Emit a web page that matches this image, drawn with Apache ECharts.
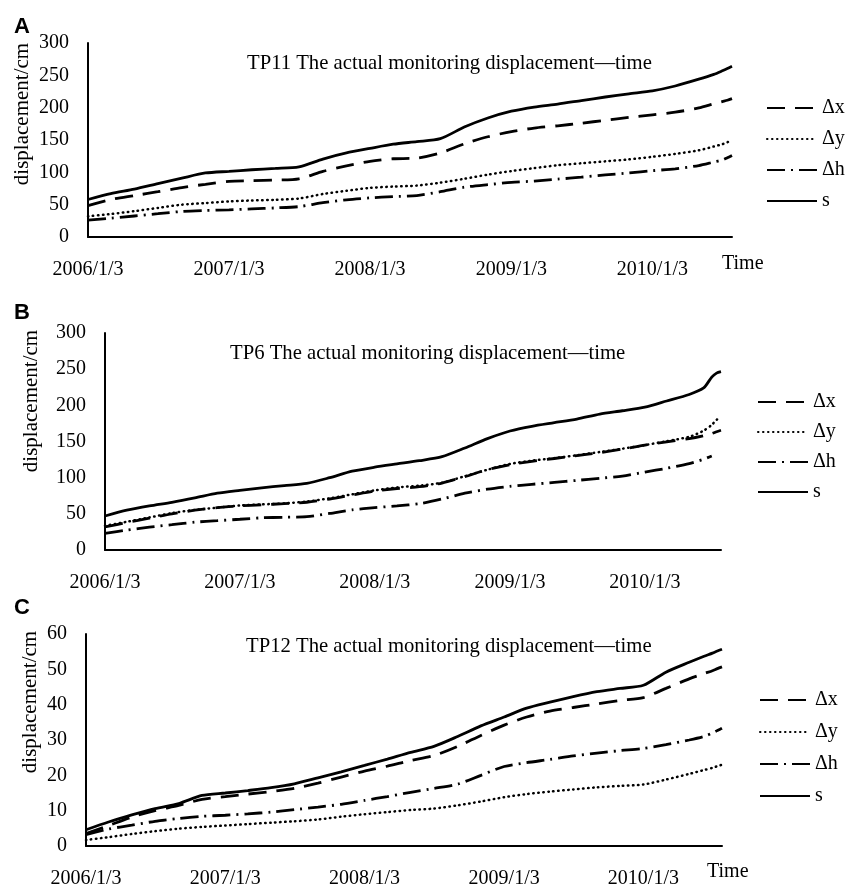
<!DOCTYPE html>
<html>
<head>
<meta charset="utf-8">
<script src="https://cdn.jsdelivr.net/npm/echarts@6.0.0/dist/echarts.min.js"></script>
<style>
  html, body { margin: 0; padding: 0; background: #fff; }
  #chart { width: 848px; height: 889px; }
</style>
</head>
<body>
<div id="chart"></div>
<script>
// sampling dates shared by the three monitoring points
var dates = ['2006/1/3', '2006/3/3', '2006/5/3', '2006/7/3', '2006/9/3', '2006/11/3',
  '2007/1/3', '2007/3/3', '2007/5/3', '2007/7/3', '2007/9/3', '2007/11/3',
  '2008/1/3', '2008/3/3', '2008/5/3', '2008/7/3', '2008/9/3', '2008/11/3',
  '2009/1/3', '2009/3/3', '2009/5/3', '2009/7/3', '2009/9/3', '2009/11/3',
  '2010/1/3', '2010/3/3', '2010/5/3', '2010/6/11', '2010/7/3', '2010/7/16', '2010/7/28'];
var xTickLabels = ['2006/1/3', '2007/1/3', '2008/1/3', '2009/1/3', '2010/1/3'];
var xStart = '2006/1/3';
var xEnd = '2010/7/28';
var seriesNames = ['Δx', 'Δy', 'Δh', 's'];

// TP11 (cm)
var tp11Dx = [48.5, 58, 64, 70, 76.5, 81.5, 86, 87, 88, 90, 101.5, 110, 117, 121, 122, 130, 144, 155, 163, 168.5, 172, 176, 180.5, 185, 189, 193, 199.5, 206, 209.5, 211.5, 214];
var tp11Dy = [32, 35.5, 40, 45, 50, 52.5, 55, 56.5, 57.5, 59.5, 66.5, 71.5, 76, 78, 79.5, 84, 90, 96.5, 102, 106.5, 111, 114, 117, 120, 124, 128.5, 134, 140, 143.5, 146.5, 150];
var tp11Dh = [26, 29, 32.5, 36, 39.5, 41, 42, 43.5, 45, 47, 53, 57.5, 60.5, 62.5, 64, 70, 77, 81, 84.5, 86.5, 89.5, 92.5, 96, 99, 102.5, 105.5, 110.5, 116, 119, 122.5, 126];
var tp11S = [58, 67, 74, 82.5, 91, 99, 101.5, 104, 106, 108.5, 120.5, 130, 137, 143.5, 147.5, 152, 170, 184, 194.5, 201, 205.5, 211, 216.5, 221.5, 226, 233.5, 244, 251.5, 257, 260.5, 264];

// TP6 (cm)
var tp6Dx = [32, 38, 44, 50, 55, 58.5, 61, 62.5, 64, 66, 70.5, 76, 81.5, 85, 87.5, 92.5, 101.5, 111, 118, 122.5, 126.5, 130.5, 134.5, 139.5, 145, 149.5, 154, 158, 161, 163.5, 165.5];
var tp6Dy = [33.5, 39, 45, 51, 55.5, 58.5, 61.5, 63, 64.5, 67, 71.5, 77, 82.5, 86.5, 89, 93, 102, 111, 119, 123.5, 127, 131, 135.5, 140, 145, 150.5, 156.5, 165, 173, 180, 183];
var tp6Dh = [23, 27.5, 31.5, 35, 38.5, 40.5, 42.5, 44.5, 45.3, 46, 50.5, 55.5, 58.5, 61, 64, 70.5, 78.5, 84, 88, 90.8, 93.5, 96.2, 99.2, 102.2, 107.8, 113, 119.5, 125.5, 130, null, null];
var tp6S = [47, 55, 61, 66, 72, 78.5, 82.5, 86, 89, 92, 100, 109, 114.5, 119, 123.5, 129, 141, 154, 164.5, 171, 176, 181, 188, 192.5, 197.5, 206, 215, 224, 239, 244.5, 246.5];

// TP12 (cm)
var tp12Dx = [3.5, 5.8, 8.2, 10, 11.5, 13.2, 14, 14.7, 15.4, 16.3, 17.8, 19.5, 21.2, 22.6, 24.2, 25.6, 28.2, 31.3, 34.2, 36.5, 38.2, 39.2, 40.2, 41.2, 42, 44.6, 47.3, 48.8, 49.6, 50.2, 50.7];
var tp12Dy = [1.7, 2.5, 3.4, 4.2, 4.9, 5.4, 5.8, 6.2, 6.6, 7, 7.5, 8.3, 9, 9.6, 10.2, 10.6, 11.5, 12.6, 13.8, 14.7, 15.4, 16, 16.6, 17, 17.4, 18.8, 20.4, 21.5, 22.1, 22.6, 23];
var tp12Dh = [3.2, 4.8, 5.9, 7, 7.8, 8.4, 8.7, 9.1, 9.6, 10.3, 11, 11.8, 12.9, 14, 15.2, 16.3, 17.5, 20, 22.5, 23.6, 24.5, 25.5, 26.3, 27, 27.6, 28.7, 30, 31, 32, 32.7, 33.3];
var tp12S = [4.6, 6.8, 8.8, 10.6, 12, 14.3, 15, 15.7, 16.5, 17.6, 19.3, 21, 22.8, 24.6, 26.5, 28.2, 31, 34, 36.5, 39, 40.7, 42.3, 43.7, 44.6, 45.5, 49.2, 52, 53.7, 54.6, 55.2, 55.7];

var panels = [
  { letter: 'A', title: 'TP11 The actual monitoring displacement—time', yMax: 300, yStep: 50,
    data: [tp11Dx, tp11Dy, tp11Dh, tp11S], showTime: true },
  { letter: 'B', title: 'TP6 The actual monitoring displacement—time', yMax: 300, yStep: 50,
    data: [tp6Dx, tp6Dy, tp6Dh, tp6S], showTime: false },
  { letter: 'C', title: 'TP12 The actual monitoring displacement—time', yMax: 60, yStep: 10,
    data: [tp12Dx, tp12Dy, tp12Dh, tp12S], showTime: true }
];

// layout of each panel (plot box, labels)
var layout = [
  { grid: { left: 88, top: 43, width: 644, height: 194 }, letterTop: 16, titleLeft: 247, titleTop: 53,
    yName: [22, 114], legend: { left: 766, top: 98, itemGap: 11 }, time: [722, 264] },
  { grid: { left: 105, top: 333, width: 616, height: 217 }, letterTop: 302, titleLeft: 230, titleTop: 343,
    yName: [31, 401], legend: { left: 757, top: 392, itemGap: 10 }, time: null },
  { grid: { left: 86, top: 634, width: 636, height: 212 }, letterTop: 597, titleLeft: 246, titleTop: 636,
    yName: [30, 702], legend: { left: 759, top: 690, itemGap: 12 }, time: [707, 872] }
];

var serif = 'Liberation Serif';
var lineStyles = [
  { color: '#000', width: 2.8, type: [18, 10] },
  { color: '#000', width: 2.5, type: [0.5, 4.5], cap: 'round' },
  { color: '#000', width: 2.8, type: [18, 6, 2, 6] },
  { color: '#000', width: 2.8, type: 'solid' }
];

// date string -> timestamp (ms), used as the x value
function t(s) {
  var p = s.split('/').map(Number);
  return new Date(p[0], p[1] - 1, p[2]).getTime();
}
var tickVals = xTickLabels.map(t);

function tickLabel(v) {
  for (var k = 0; k < tickVals.length; k++) {
    if (Math.abs(tickVals[k] - v) < 43200000) return xTickLabels[k];
  }
  return '';
}

var myChart = echarts.init(document.getElementById('chart'));

var grid = [], xAxis = [], yAxis = [], series = [], legend = [], title = [], graphic = [];

panels.forEach(function (p, i) {
  var lay = layout[i];
  grid.push(lay.grid);
  xAxis.push({
    type: 'value',
    gridIndex: i,
    min: t(xStart),
    max: t(xEnd),
    axisLine: { show: true, onZero: false, lineStyle: { color: '#000', width: 2 } },
    axisTick: { show: false },
    splitLine: { show: false },
    axisLabel: {
      customValues: tickVals,
      formatter: tickLabel,
      color: '#000',
      fontFamily: serif,
      fontSize: 20,
      margin: 23,
      hideOverlap: false
    }
  });
  yAxis.push({
    type: 'value',
    gridIndex: i,
    min: 0,
    max: p.yMax,
    interval: p.yStep,
    axisLine: { show: true, lineStyle: { color: '#000', width: 2 } },
    axisTick: { show: false },
    splitLine: { show: false },
    axisLabel: { color: '#000', fontFamily: serif, fontSize: 20, margin: 19 }
  });
  p.data.forEach(function (vals, k) {
    series.push({
      name: seriesNames[k],
      type: 'line',
      xAxisIndex: i,
      yAxisIndex: i,
      symbol: 'none',
      smooth: 0.25,
      itemStyle: { color: '#000' },
      lineStyle: lineStyles[k],
      data: dates.map(function (d, j) { return [t(d), vals[j]]; })
    });
  });
  legend.push({
    data: seriesNames,
    orient: 'vertical',
    left: lay.legend.left,
    top: lay.legend.top,
    itemGap: lay.legend.itemGap,
    itemWidth: 50,
    itemHeight: 14,
    padding: 0,
    itemStyle: { color: 'rgba(0,0,0,0)', borderColor: 'rgba(0,0,0,0)', borderWidth: 0, opacity: 0 },
    textStyle: { color: '#000', fontFamily: serif, fontSize: 20 }
  });
  title.push({
    text: p.letter,
    left: 14,
    top: lay.letterTop,
    padding: 0,
    textStyle: { color: '#000', fontFamily: 'Liberation Sans', fontWeight: 'bold', fontSize: 22 }
  });
  title.push({
    text: p.title,
    left: lay.titleLeft,
    top: lay.titleTop,
    padding: 0,
    textStyle: { color: '#000', fontFamily: serif, fontWeight: 'normal', fontSize: 20.7 }
  });
  graphic.push({
    type: 'text',
    x: lay.yName[0],
    y: lay.yName[1],
    rotation: Math.PI / 2,
    style: { text: 'displacement/cm', fill: '#000', font: '21px "Liberation Serif"', align: 'center', verticalAlign: 'middle' }
  });
  if (p.showTime) {
    graphic.push({
      type: 'text',
      x: lay.time[0],
      y: lay.time[1],
      style: { text: 'Time', fill: '#000', font: '20px "Liberation Serif"', align: 'left', verticalAlign: 'middle' }
    });
  }
});

var option = {
  backgroundColor: '#fff',
  animation: false,
  title: title,
  legend: legend,
  grid: grid,
  xAxis: xAxis,
  yAxis: yAxis,
  series: series,
  graphic: graphic
};

myChart.setOption(option);
</script>
</body>
</html>
